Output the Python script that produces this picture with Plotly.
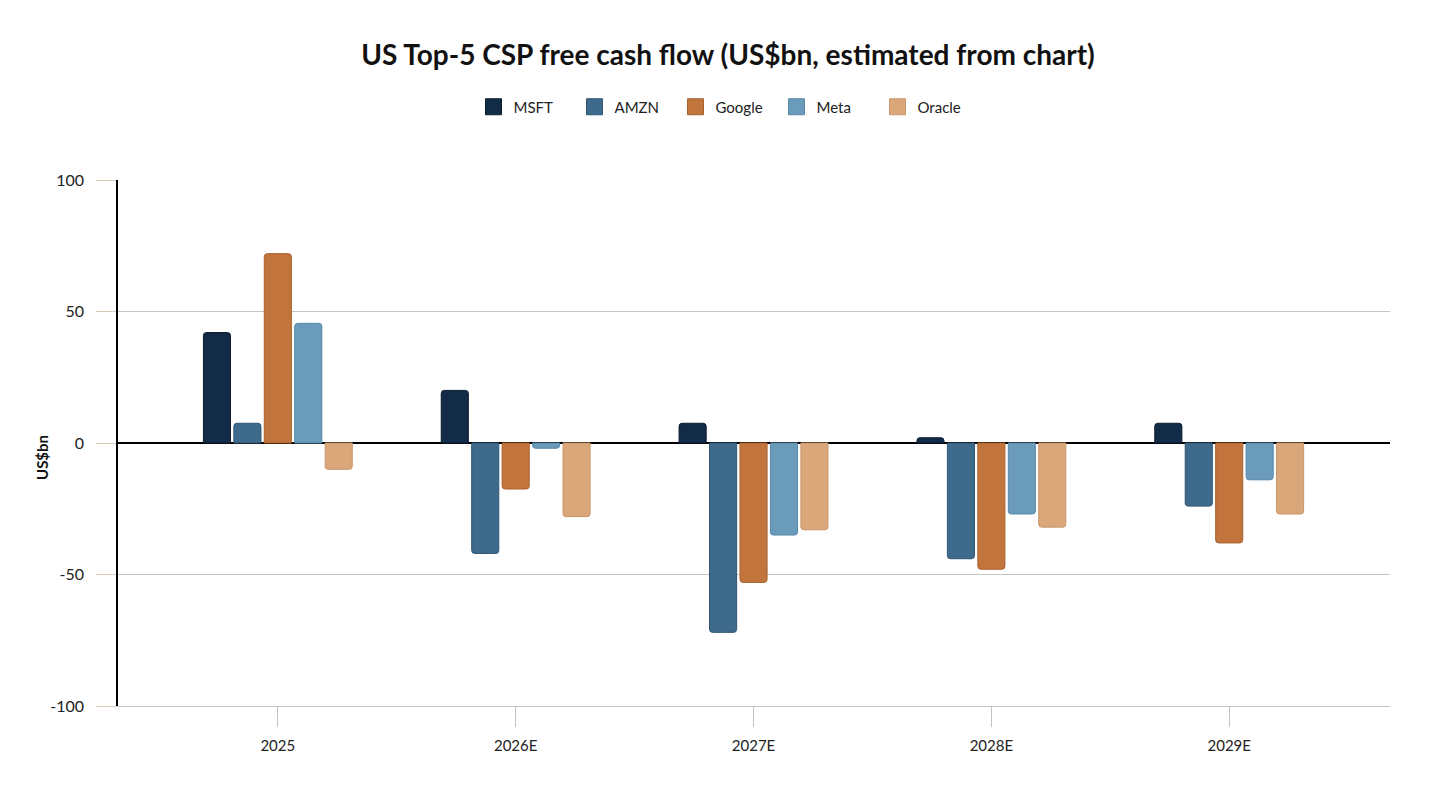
import plotly.graph_objects as go

years = ["2025", "2026E", "2027E", "2028E", "2029E"]
companies = ["MSFT", "AMZN", "Google", "Meta", "Oracle"]

msft = [42, 20, 7.5, 2, 7.5]
amzn = [7.5, -42, -72, -44, -24]
google = [72, -17.5, -53, -48, -38]
meta = [45.5, -2, -35, -27, -14]
oracle = [-10, -28, -33, -32, -27]

y_ticks = [-100, -50, 0, 50, 100]
y_tick_labels = ["-100", "-50", "0", "50", "100"]

series = [msft, amzn, google, meta, oracle]
fills = ["#122b47", "#3e6a8b", "#c1743c", "#6a9bbb", "#d9a77a"]
edges = ["#0b1c30", "#2f5573", "#a9622f", "#5887a8", "#c9966a"]

FONT = "Lato, 'Open Sans', sans-serif"
# the page body has an 8px margin, so everything is shifted by that much
PAD = 8
PLOT_L, PLOT_R, PLOT_T, PLOT_B = 118, 1390, 180, 706

fig = go.Figure()
for name, vals, fc, ec in zip(companies, series, fills, edges):
    fig.add_trace(
        go.Bar(
            name=name,
            x=years,
            y=vals,
            legendgroup=name,
            showlegend=False,
            marker=dict(color=fc, line=dict(color=ec, width=1), cornerradius=3),
        )
    )
    # legend-only entry so the swatch can be a bigger square
    fig.add_trace(
        go.Scatter(
            name=name,
            x=[None],
            y=[None],
            mode="markers",
            legendgroup=name,
            marker=dict(symbol="square", size=16, color=fc, line=dict(color=ec, width=1)),
        )
    )

fig.update_layout(
    width=1456,
    height=803,
    paper_bgcolor="white",
    plot_bgcolor="white",
    font=dict(family=FONT, size=15, color="#222222"),
    title=dict(
        text="<b>US Top-5 CSP free cash flow (US$bn, estimated from chart)</b>",
        x=(728 - PAD) / 1456,
        xref="container",
        xanchor="center",
        y=1 - (55 - PAD) / 803,
        yanchor="middle",
        font=dict(size=28, color="#111111"),
    ),
    barmode="group",
    bargap=0.36,
    bargroupgap=0.11,
    margin=dict(l=PLOT_L - PAD, r=1456 - PLOT_R + PAD, t=PLOT_T - PAD, b=803 - PLOT_B + PAD),
    showlegend=True,
    legend=dict(
        orientation="h",
        xref="container",
        x=(726 - PAD) / 1456,
        xanchor="center",
        yref="container",
        y=1 - (107 - PAD) / 803,
        yanchor="middle",
        font=dict(size=15, color="#222222"),
        traceorder="normal",
        entrywidth=56,
    ),
    annotations=[
        dict(
            text="<b>US$bn</b>",
            xref="paper",
            yref="paper",
            x=(42 - PLOT_L) / (PLOT_R - PLOT_L),
            y=(PLOT_B - 458) / (PLOT_B - PLOT_T),
            xanchor="center",
            yanchor="middle",
            textangle=-90,
            showarrow=False,
            font=dict(size=15, color="#111111"),
        )
    ],
)

fig.update_xaxes(
    range=[-0.672, 4.676],
    showgrid=False,
    showline=True,
    linecolor="#c4c4c4",
    linewidth=1,
    ticks="outside",
    ticklen=20,
    tickcolor="#c4c4c4",
    ticklabelstandoff=6,
    tickfont=dict(size=15, color="#222222"),
)

fig.update_yaxes(
    range=[-100, 100],
    tickvals=y_ticks,
    ticktext=y_tick_labels,
    showgrid=True,
    gridcolor="#c4c4c4",
    gridwidth=1,
    zeroline=True,
    zerolinecolor="#000000",
    zerolinewidth=1.5,
    showline=True,
    linecolor="#000000",
    linewidth=1.5,
    ticks="outside",
    ticklen=20,
    tickcolor="#d8ccb8",
    ticklabelstandoff=9,
    tickfont=dict(size=16, color="#222222"),
)

fig.write_html("out.html")
